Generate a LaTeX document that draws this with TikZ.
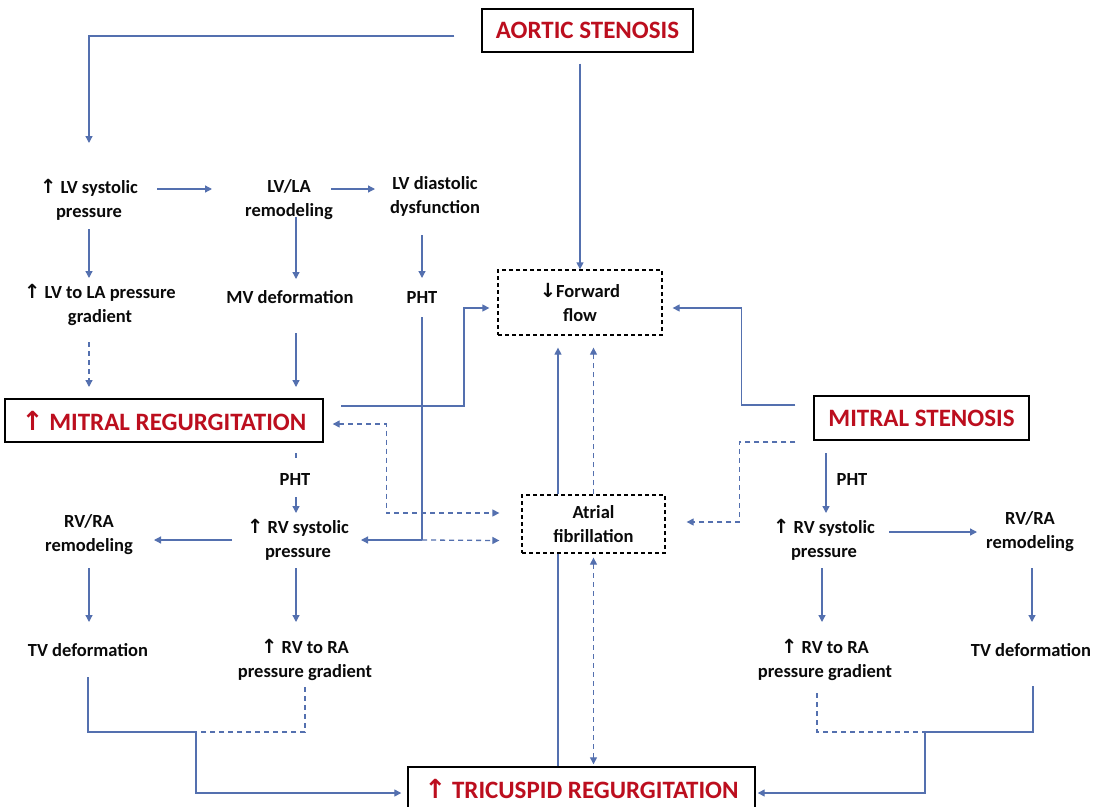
\documentclass[tikz,border=0pt]{standalone}
\usepackage{fontspec}
\setmainfont{Carlito}
\newfontfamily\arrfont{DejaVu Sans}[Scale=1.05]
\usetikzlibrary{arrows.meta,calc}
\definecolor{lnblue}{RGB}{84,112,175}
\definecolor{tred}{RGB}{188,14,30}
\definecolor{tblack}{RGB}{10,10,10}
\newcommand\upa{{\arrfont\bfseries ↑}}
\newcommand\dna{{\arrfont\bfseries ↓}}
\begin{document}
\begin{tikzpicture}[x=1pt,y=-1pt,
  txt/.style={font=\bfseries\fontsize{18.5}{24}\selectfont, text=tblack, align=center, inner sep=0pt},
  title/.style={draw=black, line width=1.4pt, font=\bfseries\fontsize{25}{28}\selectfont, text=tred, fill=white, inner sep=0pt},
  dbox/.style={draw=black, line width=1.3pt, dash pattern=on 4pt off 3pt, fill=white, inner sep=0pt,
               font=\bfseries\fontsize{18.5}{24}\selectfont, align=center, text=tblack},
  conn/.style={draw=lnblue, line width=1.3pt},
  arr/.style={conn, -{Triangle[length=7pt,width=7pt]}},
  barr/.style={conn, {Triangle[length=7pt,width=7pt]}-{Triangle[length=7pt,width=7pt]}},
  dsh/.style={dash pattern=on 5pt off 4pt}]
\fill[white] (0,0) rectangle (1103,806);
\useasboundingbox (0,0) rectangle (1103,806);

% boxes
\node[title, minimum width=211pt, minimum height=43pt] (AS) at (587.5,30.5) {AORTIC STENOSIS};
\node[dbox, minimum width=164pt, minimum height=65pt] (FF) at (580,302.5) {\dna Forward\\flow};
\node[dbox, minimum width=143pt, minimum height=58pt] (AF) at (593.5,524) {Atrial\\fibrillation};
\node[title, minimum width=318pt, minimum height=43pt] (MR) at (164,420.5) {\upa\ MITRAL REGURGITATION};
\node[title, minimum width=215pt, minimum height=44pt] (MS) at (921.5,418) {MITRAL STENOSIS};
\node[title, minimum width=347pt, minimum height=44pt] (TR) at (581.5,789) {\upa\ TRICUSPID REGURGITATION};

% text nodes
\node[txt] (lvsp) at (89,200) {\upa\ LV systolic\\pressure};
\node[txt] (lvla) at (289,200) {LV/LA\\remodeling};
\node[txt] (lvdd) at (435,196) {LV diastolic\\dysfunction};
\node[txt] (lvgrad) at (100,305) {\upa\ LV to LA pressure\\gradient};
\node[txt] (mvdef) at (290,297) {MV deformation};
\node[txt] (pht1) at (422,297) {PHT};
\node[txt] (pht2) at (295,479) {PHT};
\node[txt] (rvsp1) at (298,540) {\upa\ RV systolic\\pressure};
\node[txt] (rvra1) at (89,535) {RV/RA\\remodeling};
\node[txt] (tvd1) at (88,650) {TV deformation};
\node[txt] (rvgrad1) at (305,660) {\upa\ RV to RA\\pressure gradient};
\node[txt] (pht3) at (852,479) {PHT};
\node[txt] (rvsp2) at (824,540) {\upa\ RV systolic\\pressure};
\node[txt] (rvra2) at (1030,532) {RV/RA\\remodeling};
\node[txt] (rvgrad2) at (825,660) {\upa\ RV to RA\\pressure gradient};
\node[txt] (tvd2) at (1031,650) {TV deformation};

% connectors
\draw[arr] ($(AS.west)+(-27,5.5)$) -| ($(lvsp)+(0,-57)$);
\draw[arr] ($(AS.south -| FF.north)+(0,11)$) -- (FF.north);
\draw[arr] ($(lvsp)+(68,-11)$) -- ($(lvla)+(-77,-11)$);
\draw[arr] ($(lvla)+(42,-11)$) -- ($(lvdd)+(-60,-7)$);
\draw[arr] ($(lvsp)+(0,29)$) -- ($(lvgrad)+(-11,-27)$);
\draw[arr] ($(lvla)+(7,17)$) -- ($(mvdef)+(6,-18)$);
\draw[arr] ($(lvdd)+(-13,39)$) -- ($(pht1)+(0,-19)$);
\draw[arr,dsh] ($(lvgrad)+(-11,37)$) -- ($(MR)+(-75,-33.5)$);
\draw[arr] ($(mvdef)+(6,36)$) -- ($(MR)+(132,-33.5)$);
\draw[arr] ($(MR)+(177,-14.5)$) -- ++(123,0) |- ($(FF.west)+(-8,5.5)$);
\draw[barr,dsh] ($(MR.east)+(9,3.5)$) -- ++(54,0) |- ($(AF.west)+(-22,-11)$);
\draw[conn,dsh] ($(MR)+(132,32.5)$) -- ++(0,7);
\draw[arr] ($(pht2)+(1,18)$) -- ($(rvsp1)+(-2,-27)$);
\draw[arr] ($(rvsp1)+(-66,0)$) -- ($(rvra1)+(65,5)$);
\coordinate (j1) at (pht1 |- rvsp1);
\draw[conn] ($(pht1)+(0,20)$) -- (j1);
\draw[arr] (j1) -- ($(rvsp1)+(63,0)$);
\draw[arr,dsh] (j1) -- ($(AF.west)+(-22,16.5)$);
\draw[arr] ($(rvra1)+(0,33)$) -- ($(tvd1)+(1,-28)$);
\draw[arr] ($(rvsp1)+(-2,28)$) -- ($(rvgrad1)+(-9,-38)$);
\coordinate (j2) at (196,732);
\draw[conn] ($(tvd1)+(0,27)$) |- (j2);
\draw[conn,dsh] ($(rvgrad1)+(0,27)$) |- (j2);
\draw[arr] (j2) |- ($(TR.west)+(-6,4)$);
\draw[arr] ($(AF.north)+(-35.5,0)$) -- ($(FF.south)+(-22,12)$);
\draw[arr,dsh] (AF.north) -- ($(FF.south)+(13.5,12)$);
\draw[conn] ($(TR.north)+(-23.5,0)$) -- ($(AF.south)+(-35.5,0)$);
\draw[barr,dsh] ($(AF.south)+(0,4)$) -- ($(AF.south |- TR.north)+(0,-2)$);
\draw[arr] ($(MS.west)+(-18,-13)$) -- ++(-54,0) |- ($(FF.east)+(10,5.5)$);
\draw[arr,dsh] ($(MS.west)+(-18,24)$) -- ++(-56,0) |- ($(AF.east)+(21,-2)$);
\draw[arr] ($(MS)+(-95.5,35)$) -- ($(rvsp2)+(2,-27)$);
\draw[arr] ($(rvsp2)+(65,-8)$) -- ($(rvra2)+(-53,0)$);
\draw[arr] ($(rvsp2)+(-2,28)$) -- ($(rvgrad2)+(-3,-38)$);
\draw[arr] ($(rvra2)+(2,36)$) -- ($(tvd2)+(1,-28)$);
\coordinate (j3) at (925,732);
\draw[conn,dsh] ($(rvgrad2)+(-8,33)$) |- (j3);
\draw[conn] ($(tvd2)+(2,36)$) |- (j3);
\draw[arr] (j3) |- ($(TR.east)+(2,4)$);
\end{tikzpicture}
\end{document}
